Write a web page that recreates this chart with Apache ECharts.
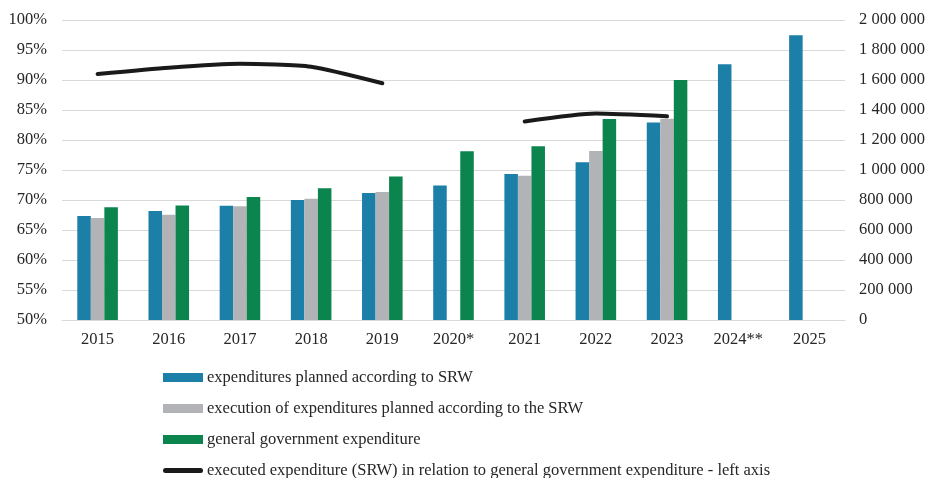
<!DOCTYPE html>
<html><head><meta charset="utf-8">
<script src="https://cdn.jsdelivr.net/npm/echarts@6/dist/echarts.min.js"></script>
<style>html,body{margin:0;padding:0;background:#fff}#c{width:926px;height:478px}</style>
</head><body><div id="c"></div>
<script>
const categories = ['2015','2016','2017','2018','2019','2020*','2021','2022','2023','2024**','2025'];
const plannedSRW = [693000, 727000, 762000, 800000, 847000, 896000, 973000, 1051000, 1316000, 1705000, 1898000];
const executedSRW = [680000, 702000, 758000, 809000, 853000, null, 962000, 1127000, 1342000, null, null];
const generalGov = [751000, 764000, 820000, 878000, 956000, 1125000, 1158000, 1340000, 1600000, null, null];
const ratioPct = [91.0, 92.05, 92.7, 92.2, 89.45, null, 83.1, 84.4, 83.95, null, null];
const names = [
  'expenditures planned according to SRW',
  'execution of expenditures planned according to the SRW',
  'general government expenditure',
  'executed expenditure (SRW) in relation to general government expenditure - left axis'
];
const font = 'Liberation Serif, Times New Roman, serif';
const txt = '#262626';
const fs = 16.5;
const chart = echarts.init(document.getElementById('c'), null, {renderer:'canvas'});
function fmtSpace(v){return String(v).replace(/\B(?=(\d{3})+(?!\d))/g,' ');}
chart.setOption({
  animation:false,
  textStyle:{fontFamily:font,color:txt},
  grid:{left:62,right:81,top:20,bottom:158,containLabel:false,outerBoundsMode:'none'},
  legend:{
    orient:'vertical', left:163, top:369, width:760, height:110, padding:0,
    itemWidth:40, itemHeight:9, itemGap:14,
    textStyle:{fontFamily:font,fontSize:fs,color:txt,lineHeight:16.5,padding:[0,0,0,-1]},
    data:[
      {name:names[0],icon:'rect'},
      {name:names[1],icon:'rect'},
      {name:names[2],icon:'rect'},
      {name:names[3],icon:'path://M2.5,0 L37.5,0 A2.5,2.5 0 0 1 37.5,5 L2.5,5 A2.5,2.5 0 0 1 2.5,0 Z',itemStyle:{color:'#1a1a1a'}}
    ]
  },
  xAxis:{
    type:'category', data:categories,
    axisLine:{show:true,lineStyle:{color:'#d9d9d9',width:1}},
    axisTick:{show:false},
    axisLabel:{fontFamily:font,fontSize:fs,color:txt,margin:11}
  },
  yAxis:[
    {type:'value',min:50,max:100,interval:5,position:'left',
     axisLabel:{fontFamily:font,fontSize:fs,color:txt,formatter:'{value}%',margin:15},
     splitLine:{lineStyle:{color:'#d9d9d9',width:1}},
     axisLine:{show:false},axisTick:{show:false}},
    {type:'value',min:0,max:2000000,interval:200000,position:'right',
     axisLabel:{fontFamily:font,fontSize:fs,color:txt,formatter:fmtSpace,margin:14},
     splitLine:{show:false},axisLine:{show:false},axisTick:{show:false}}
  ],
  series:[
    {name:names[0],type:'bar',yAxisIndex:1,data:plannedSRW,barGap:'0%',barCategoryGap:'43%',itemStyle:{color:'#1b7fa8'}},
    {name:names[1],type:'bar',yAxisIndex:1,data:executedSRW,itemStyle:{color:'#b1b3b6'}},
    {name:names[2],type:'bar',yAxisIndex:1,data:generalGov,itemStyle:{color:'#0b844d'}},
    {name:names[3],type:'line',yAxisIndex:0,data:ratioPct,smooth:0.2,connectNulls:false,
     symbol:'none',lineStyle:{color:'#1a1a1a',width:4,cap:'round'},itemStyle:{color:'#1a1a1a'}}
  ]
});
</script></body></html>
